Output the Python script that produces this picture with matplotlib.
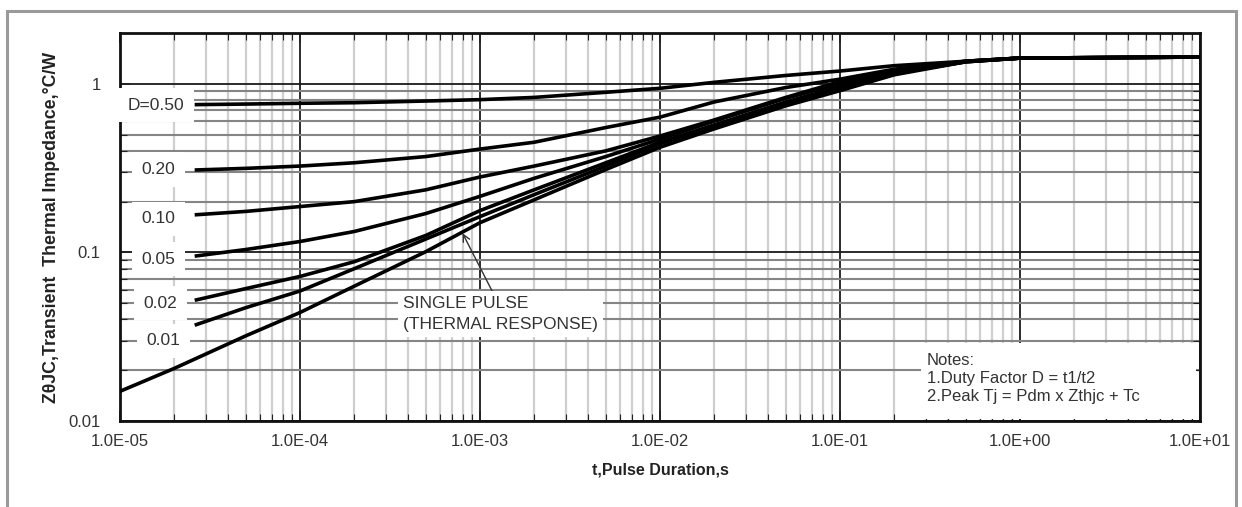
import matplotlib
matplotlib.use("Agg")
from matplotlib import pyplot as plt
from matplotlib.patches import Rectangle
from matplotlib.ticker import LogLocator, NullFormatter, FixedLocator, FixedFormatter

plt.rcParams['font.family'] = ['Liberation Sans', 'DejaVu Sans']

# pulse durations (s) for the duty-cycle curves
t_duty = [2.6e-5, 5e-5, 1e-4, 2e-4, 5e-4, 1e-3, 2e-3, 5e-3, 1e-2, 2e-2, 5e-2,
          1e-1, 2e-1, 5e-1, 1, 10]

# transient thermal impedance (C/W) per duty factor
z_d50 = [0.752, 0.758, 0.766, 0.772, 0.79, 0.805, 0.83, 0.89, 0.94, 1.02, 1.12,
         1.19, 1.28, 1.36, 1.42, 1.44]
z_d20 = [0.308, 0.315, 0.325, 0.34, 0.37, 0.41, 0.45, 0.55, 0.634, 0.78, 0.95,
         1.065, 1.22, 1.36, 1.42, 1.44]
z_d10 = [0.167, 0.175, 0.187, 0.20, 0.235, 0.28, 0.325, 0.40, 0.49, 0.61, 0.83,
         1.03, 1.20, 1.36, 1.42, 1.44]
z_d05 = [0.095, 0.104, 0.116, 0.133, 0.17, 0.215, 0.275, 0.37, 0.47, 0.60, 0.82,
         1.00, 1.18, 1.36, 1.42, 1.44]
z_d02 = [0.052, 0.061, 0.072, 0.088, 0.126, 0.177, 0.235, 0.34, 0.45, 0.57, 0.78,
         0.96, 1.16, 1.35, 1.42, 1.44]
z_d01 = [0.037, 0.047, 0.059, 0.08, 0.12, 0.163, 0.22, 0.325, 0.44, 0.56, 0.76,
         0.935, 1.15, 1.35, 1.42, 1.44]

# single pulse
t_single = [1e-5, 2e-5, 5e-5, 1e-4, 2e-4, 5e-4, 1e-3, 2e-3, 5e-3, 1e-2, 2e-2,
            5e-2, 1e-1, 2e-1, 5e-1, 1, 10]
z_single = [0.015, 0.0205, 0.032, 0.044, 0.063, 0.101, 0.150, 0.205, 0.31, 0.42,
            0.54, 0.74, 0.91, 1.13, 1.35, 1.42, 1.44]

duty_labels = ['D=0.50', '0.20', '0.10', '0.05', '0.02', '0.01']
duty_curves = [z_d50, z_d20, z_d10, z_d05, z_d02, z_d01]

x_ticks = [1e-5, 1e-4, 1e-3, 1e-2, 1e-1, 1, 10]
x_ticklabels = ['1.0E-05', '1.0E-04', '1.0E-03', '1.0E-02', '1.0E-01', '1.0E+00', '1.0E+01']
y_ticks = [0.01, 0.1, 1]
y_ticklabels = ['0.01', '0.1', '1']

fig = plt.figure(figsize=(12.42, 5.07), dpi=100)
ax = fig.add_axes([0.0966, 0.1696, 0.8696, 0.7653])
ax.set_xscale('log')
ax.set_yscale('log')
ax.set_xlim(1e-5, 10)
ax.set_ylim(0.01, 2)

# grid: dark decades, grey minor lines
ax.xaxis.set_major_locator(FixedLocator(x_ticks))
ax.xaxis.set_major_formatter(FixedFormatter(x_ticklabels))
ax.yaxis.set_major_locator(FixedLocator(y_ticks))
ax.yaxis.set_major_formatter(FixedFormatter(y_ticklabels))
ax.xaxis.set_minor_locator(LogLocator(base=10, subs=range(2, 10), numticks=20))
ax.yaxis.set_minor_locator(LogLocator(base=10, subs=range(2, 10), numticks=20))
ax.xaxis.set_minor_formatter(NullFormatter())
ax.yaxis.set_minor_formatter(NullFormatter())
ax.grid(True, which='major', axis='both', color='#1a1a1a', lw=1.3)
ax.grid(True, which='minor', axis='x', color='#cfcfcf', lw=1.6)
ax.grid(True, which='minor', axis='y', color='#858585', lw=1.5)
ax.set_axisbelow(True)

ax.tick_params(which='both', direction='in', top=True, right=True, colors='#222222')
ax.tick_params(which='major', length=7, width=1.2, labelsize=12, labelcolor='#333333')
ax.tick_params(which='minor', length=5, width=0.8)
ax.tick_params(axis='y', pad=14)
ax.tick_params(axis='x', pad=9)
for s in ax.spines.values():
    s.set_linewidth(2)
    s.set_color('#111111')

for z in duty_curves:
    ax.plot(t_duty, z, color='black', lw=2.6, solid_capstyle='butt', zorder=4)
ax.plot(t_single, z_single, color='black', lw=2.6, zorder=4)

# curve labels on white patches at the left edge
label_pos = [(1.1e-5, 0.745), (1.32e-5, 0.31), (1.32e-5, 0.158), (1.32e-5, 0.091),
             (1.35e-5, 0.05), (1.4e-5, 0.03)]
for txt, (lx, ly) in zip(duty_labels, label_pos):
    ax.text(lx, ly, txt, fontsize=12.5, color='#333333', ha='left', va='center', zorder=3,
            bbox=dict(boxstyle='square,pad=0.55', facecolor='white', edgecolor='none'))

ax.annotate('SINGLE PULSE\n(THERMAL RESPONSE)', xy=(8e-4, 0.13), xytext=(3.75e-4, 0.043),
            fontsize=12.5, color='#333333', ha='left', va='center', linespacing=1.45, zorder=3,
            bbox=dict(boxstyle='square,pad=0.3', facecolor='white', edgecolor='none'),
            arrowprops=dict(arrowstyle='->', color='#333333', lw=1.0,
                            shrinkA=0, shrinkB=0, relpos=(0.47, 1.0)))

# notes panel in the lower right corner
ax.add_patch(Rectangle((0.742, 0.004), 0.254, 0.198, transform=ax.transAxes,
                       facecolor='white', edgecolor='none', zorder=2))
ax.text(0.747, 0.175, 'Notes:\n1.Duty Factor D = t1/t2\n2.Peak Tj = Pdm x Zthjc + Tc',
        transform=ax.transAxes, fontsize=12, color='#333333', ha='left', va='top',
        linespacing=1.25, zorder=3)

ax.set_xlabel('t,Pulse Duration,s', fontsize=11.5, fontweight='bold', color='#222222', labelpad=10)
ax.set_ylabel('Z\u03b8JC,Transient  Thermal Impedance,\u00b0C/W', fontsize=12.8,
              fontweight='bold', color='#222222', labelpad=6)

# page frame
fig.patches.append(Rectangle((7 / 1242, -0.1), 1229 / 1242, 1.1 - 11 / 507,
                             transform=fig.transFigure, fill=False,
                             edgecolor='#9a9a9a', lw=2.2))

fig.savefig('out.png', dpi=100, facecolor='white')
